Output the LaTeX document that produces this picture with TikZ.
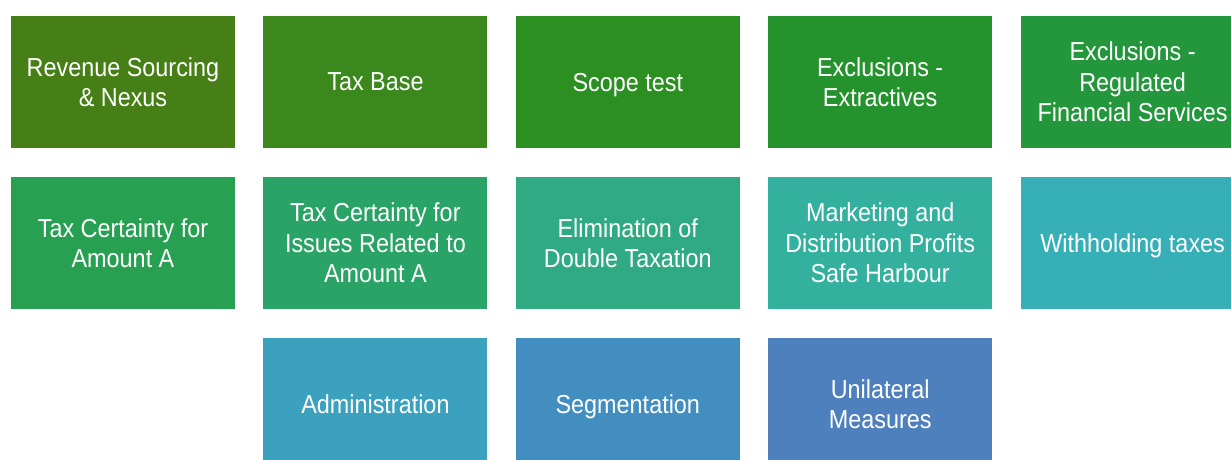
\documentclass[tikz,border=0pt]{standalone}
\usepackage{fontspec}
\setmainfont{Liberation Sans}[FakeStretch=0.9]
\definecolor{cA}{HTML}{467F15}
\definecolor{cB}{HTML}{3B891C}
\definecolor{cC}{HTML}{2B8F21}
\definecolor{cD}{HTML}{25932D}
\definecolor{cE}{HTML}{24963C}
\definecolor{cF}{HTML}{27A052}
\definecolor{cG}{HTML}{2AA466}
\definecolor{cH}{HTML}{30AA82}
\definecolor{cI}{HTML}{34B09E}
\definecolor{cJ}{HTML}{37AFB7}
\definecolor{cK}{HTML}{3CA1BE}
\definecolor{cL}{HTML}{428EC0}
\definecolor{cM}{HTML}{4F80BE}
\newcommand{\nodepth}[1]{\raisebox{0pt}[\height][0pt]{#1}}
\begin{document}
\begin{tikzpicture}[x=1pt, y=-1pt,
  tile/.style={fill=#1, text=white, minimum width=224pt, minimum height=132pt,
    inner sep=0pt, align=center, font=\fontsize{26}{30.5}\selectfont}]
  \useasboundingbox (0,0) rectangle (1231,459);
  \clip (0,0) rectangle (1231,459);
  \foreach \c/\r/\col/\txt [count=\i] in {
      0/0/cA/{Revenue Sourcing\\\& Nexus},
      1/0/cB/{\nodepth{Tax Base}},
      2/0/cC/{\nodepth{Scope test}},
      3/0/cD/{Exclusions -\\Extractives},
      4/0/cE/{Exclusions -\\Regulated\\Financial Services},
      0/1/cF/{Tax Certainty for\\Amount A},
      1/1/cG/{Tax Certainty for\\Issues Related to\\Amount A},
      2/1/cH/{Elimination of\\Double Taxation},
      3/1/cI/{Marketing and\\Distribution Profits\\Safe Harbour},
      4/1/cJ/{\nodepth{Withholding taxes}},
      1/2/cK/{\nodepth{Administration}},
      2/2/cL/{\nodepth{Segmentation}},
      3/2/cM/{Unilateral\\Measures}}
    \node[tile=\col] (t\i) at (123+252.4*\c, 82+161*\r) {\txt};
\end{tikzpicture}
\end{document}
